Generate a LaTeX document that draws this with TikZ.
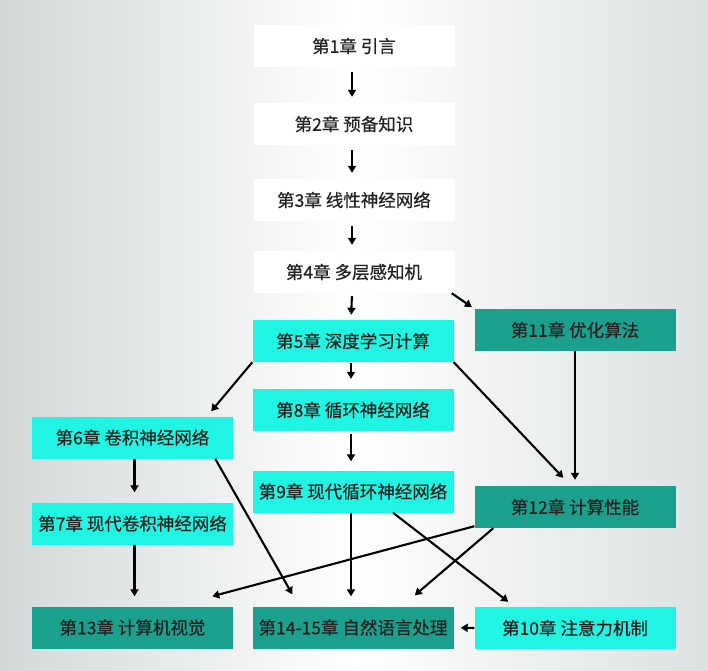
\documentclass[tikz,border=0pt]{standalone}
\usepackage{fontspec}
\newfontfamily\cjk[FakeBold=0.5]{Noto Sans CJK SC}
\usetikzlibrary{arrows.meta,calc}
\definecolor{bgedge}{HTML}{D2D8D8}
\definecolor{bgright}{HTML}{DCE1E1}
\definecolor{cyanbox}{HTML}{20F4E3}
\definecolor{tealbox}{HTML}{1BA08D}
\definecolor{txt}{HTML}{222222}
\begin{document}
\begin{tikzpicture}[x=1pt,y=-1pt,
  chap/.style={minimum width=201pt,minimum height=42pt,inner sep=0pt,
    font=\cjk\fontsize{17.5}{19}\selectfont,text=txt},
  whitebox/.style={chap,fill=white},
  cyanchap/.style={chap,fill=cyanbox},
  tealchap/.style={chap,fill=tealbox},
  arr/.style={line width=2.1pt,-{Triangle[length=7pt,width=8pt]}}]
\useasboundingbox (0,0) rectangle (708,670);
\shade[left color=bgedge,right color=bgright,middle color=white] (0,0) rectangle (708,670);
% nodes
\node[whitebox] (c1) at (354,46) {第1章 引言};
\node[whitebox] (c2) at (354,124) {第2章 预备知识};
\node[whitebox] (c3) at (354,200) {第3章 线性神经网络};
\node[whitebox] (c4) at (354,272) {第4章 多层感知机};
\node[cyanchap] (c5) at (353,341) {第5章 深度学习计算};
\node[tealchap] (c11) at (575,330) {第11章 优化算法};
\node[cyanchap] (c8) at (353,410) {第8章 循环神经网络};
\node[cyanchap] (c6) at (132.5,437.5) {第6章 卷积神经网络};
\node[cyanchap] (c9) at (353,491.5) {第9章 现代循环神经网络};
\node[cyanchap] (c7) at (132.5,523.5) {第7章 现代卷积神经网络};
\node[tealchap] (c12) at (575,507) {第12章 计算性能};
\node[tealchap] (c13) at (132.5,627.5) {第13章 计算机视觉};
\node[tealchap] (c14) at (353,627.5) {第14-15章 自然语言处理};
\node[cyanchap] (c10) at (575,628) {第10章 注意力机制};
% arrows
\draw[arr,shorten <=5pt,shorten >=6pt] ([xshift=-2pt]c1.south) -- ([xshift=-2pt]c2.north);
\draw[arr,shorten <=5pt,shorten >=6pt] ([xshift=-2pt]c2.south) -- ([xshift=-2pt]c3.north);
\draw[arr,shorten <=5pt,shorten >=6pt] ([xshift=-2pt]c3.south) -- ([xshift=-2pt]c4.north);
\draw[arr,shorten <=3pt,shorten >=5pt] ([xshift=-2pt]c4.south) -- ([xshift=-2pt]c5.north);
\draw[arr,shorten >=3pt] ([xshift=-3pt]c4.south east) -- (c11.north west);
\draw[arr,shorten <=1pt,shorten >=10pt] ([xshift=-2pt]c5.south) -- ([xshift=-2pt]c8.north);
\draw[arr,shorten <=3pt,shorten >=9pt] ([xshift=-2pt]c8.south) -- ([xshift=-2pt]c9.north);
\coordinate (t6) at ($(c6.north east)+(-22,-5)$);
\draw[arr] (c5.south west) -- (t6);
\coordinate (t12a) at ($(c12.north west)+(89,-8)$);
\draw[arr] (c5.south east) -- (t12a);
\draw[arr,shorten >=6pt] (c11.south) -- (c12.north);
\draw[arr,shorten >=10pt] ([xshift=2pt]c6.south) -- ([xshift=2pt]c7.north);
\coordinate (s6) at ($(c6.south east)+(-18,0)$);
\coordinate (t14a) at ($(c14.north west)+(40,-12)$);
\draw[arr] (s6) -- (t14a);
\draw[arr,shorten >=10pt] ([xshift=2pt]c7.south) -- ([xshift=2pt]c13.north);
\draw[arr,shorten >=10pt] ([xshift=-2pt]c9.south) -- ([xshift=-2pt]c14.north);
\coordinate (s9) at ($(c9.south)+(40,0)$);
\coordinate (t10) at ($(c10.north west)+(34,-5)$);
\draw[arr] (s9) -- (t10);
\coordinate (s12a) at ($(c12.south west)+(0,-2)$);
\coordinate (t13) at ($(c13.north east)+(-21,-10)$);
\draw[arr] (s12a) -- (t13);
\coordinate (s12b) at ($(c12.south west)+(19,0)$);
\coordinate (t14b) at ($(c14.north east)+(-39,-11)$);
\draw[arr] (s12b) -- (t14b);
\draw[arr,shorten >=7pt] (c10.west) -- (c14.east);
\end{tikzpicture}
\end{document}
